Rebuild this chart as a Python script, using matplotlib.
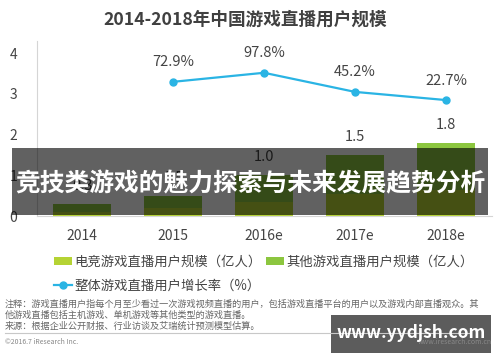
import matplotlib.pyplot as plt
from matplotlib.patches import Rectangle
from matplotlib.lines import Line2D

plt.rcParams['font.family'] = ['Noto Sans CJK SC', 'DejaVu Sans']

years = ['2014', '2015', '2016e', '2017e', '2018e']
esports = [0.1, 0.2, 0.35, 0.55, 0.65]      # 电竞游戏直播用户规模 (亿人)
totals = [0.3, 0.5, 1.0, 1.5, 1.8]          # 游戏直播用户总规模 (亿人)
others = [t - e for t, e in zip(totals, esports)]
growth = [None, 72.9, 97.8, 45.2, 22.7]     # 整体增长率 (%)

c_esports = '#b5d334'
c_other = '#8cc63f'
c_line = '#2ab4e4'
txt = '#444444'

W, H = 500, 362
fig = plt.figure(figsize=(5, 3.62), dpi=100)

# plot area: x from 36.5 to 491.5 px, y=0 at 216 px
ax = fig.add_axes([36.5 / W, (H - 216) / H, 455 / W, 175.2 / H])
x = range(len(years))
ax.bar(x, esports, width=0.63, color=c_esports, label='电竞游戏直播用户规模（亿人）')
ax.bar(x, others, width=0.63, bottom=esports, color=c_other, label='其他游戏直播用户规模（亿人）')
for i, t in enumerate(totals):
    ax.annotate(f'{t:.1f}', (i, t), xytext=(0, 8), textcoords='offset points',
                ha='center', va='bottom', fontsize=10.5, color=txt)

ax.set_xlim(-0.5, 4.5)
ax.set_ylim(0, 4.3)
ax.set_yticks([0, 1, 2, 3, 4])
ax.set_xticks(list(x))
ax.set_xticklabels(years)
ax.tick_params(axis='y', length=0, pad=14, labelsize=10, labelcolor=txt)
ax.tick_params(axis='x', length=0, pad=9, labelsize=10, labelcolor=txt)
for s in ['top', 'right']:
    ax.spines[s].set_visible(False)
ax.spines['left'].set_color('#d5d5d5')
ax.spines['bottom'].set_color('#d5d5d5')

ax2 = ax.twinx()
ax2.set_ylim(-296.3, 185.8)
gx = [i for i, g in enumerate(growth) if g is not None]
gy = [g for g in growth if g is not None]
ln, = ax2.plot(gx, gy, color=c_line, lw=1.6, marker='o', ms=5, label='整体游戏直播用户增长率（%）')
for xi, yi in zip(gx, gy):
    ax2.annotate(f'{yi}%', (xi, yi), xytext=(0, 9), textcoords='offset points',
                 ha='center', va='bottom', fontsize=10.5, color=txt)
ax2.axis('off')

handles, labels = ax.get_legend_handles_labels()
leg = fig.legend([handles[0], ln, handles[1]], [labels[0], ln.get_label(), labels[1]],
                 ncol=2, loc='upper left', bbox_to_anchor=(47 / W, 1 - 248 / H),
                 frameon=False, fontsize=9.6, labelcolor=txt, handlelength=1.4,
                 handleheight=0.5, handletextpad=0.15, columnspacing=0.3,
                 labelspacing=0.75, borderpad=0)

fig.text(245 / W, 1 - 20 / H, '2014-2018年中国游戏直播用户规模', ha='center', va='center',
         fontsize=12.7, fontweight='bold', color='#404040')

notes = ['注释：游戏直播用户指每个月至少看过一次游戏视频直播的用户，包括游戏直播平台的用户以及游戏内部直播观众。其',
         '他游戏直播包括主机游戏、单机游戏等其他类型的游戏直播。',
         '来源：根据企业公开财报、行业访谈及艾瑞统计预测模型估算。']
for k, line in enumerate(notes):
    fig.text(5 / W, 1 - (304 + 11 * k) / H, line, ha='left', va='center', fontsize=6.6, color='#666666')
fig.add_artist(Line2D([5 / W, 470 / W], [1 - 333 / H] * 2, color='#c8c8c8', lw=0.8))
fig.text(5 / W, 1 - 342 / H, '©2016.7 iResearch Inc.', ha='left', va='center', fontsize=5, color='#888888')
fig.text(492 / W, 1 - 342 / H, 'www.iresearch.com.cn', ha='right', va='center', fontsize=5, color='#888888')

# overlay banner and watermark
fig.add_artist(Rectangle((12 / W, 1 - 215 / H), 476 / W, 67 / H, transform=fig.transFigure,
                         color='black', alpha=0.62, lw=0))
fig.text(250 / W, 1 - 184 / H, '竞技类游戏的魅力探索与未来发展趋势分析', ha='center', va='center',
         fontsize=17.8, fontweight='bold', color='white')
fig.add_artist(Rectangle((331 / W, 1 - 353 / H), 160 / W, 38 / H, transform=fig.transFigure,
                         color='black', alpha=0.64, lw=0))
fig.text(411 / W, 1 - 333 / H, 'www.yydjsh.com', ha='center', va='center',
         fontsize=12.5, fontweight='bold', color='white')

fig.savefig('out.png', dpi=100)
